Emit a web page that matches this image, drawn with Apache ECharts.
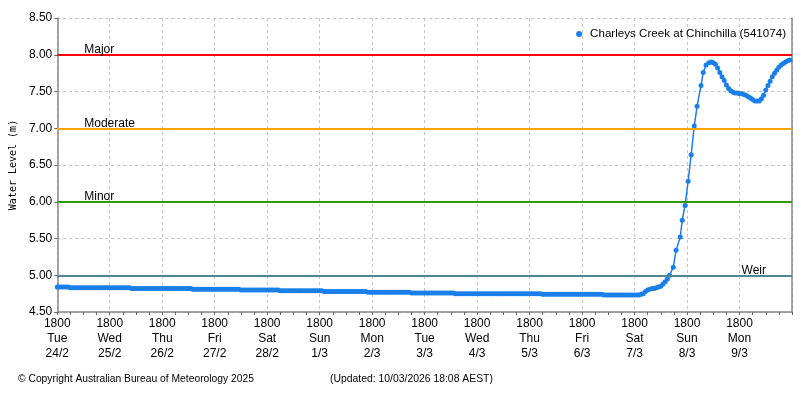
<!DOCTYPE html>
<html>
<head>
<meta charset="utf-8">
<title>Charleys Creek at Chinchilla (541074)</title>
<script src="https://cdn.jsdelivr.net/npm/echarts@6/dist/echarts.min.js"></script>
<style>
  html, body { margin: 0; padding: 0; background: #fff; }
  #chart { width: 800px; height: 400px; }
</style>
</head>
<body>
<div id="chart"></div>
<script>
// one tick per day at 1800
var tickTime = '1800';
var dayNames = ['Tue', 'Wed', 'Thu', 'Fri', 'Sat', 'Sun', 'Mon', 'Tue', 'Wed', 'Thu', 'Fri', 'Sat', 'Sun', 'Mon'];
var dayDates = ['24/2', '25/2', '26/2', '27/2', '28/2', '1/3', '2/3', '3/3', '4/3', '5/3', '6/3', '7/3', '8/3', '9/3'];

// hourly readings (m) from Tue 24/2 1800, one row per day
var baseStep = 1;
var baseLevels = [
  4.84, 4.84, 4.84, 4.84, 4.84, 4.84, 4.83, 4.83, 4.83, 4.83, 4.83, 4.83, 4.83, 4.83, 4.83, 4.83, 4.83, 4.83, 4.83, 4.83, 4.83, 4.83, 4.83, 4.83,
  4.83, 4.83, 4.83, 4.83, 4.83, 4.83, 4.83, 4.83, 4.83, 4.83, 4.82, 4.82, 4.82, 4.82, 4.82, 4.82, 4.82, 4.82, 4.82, 4.82, 4.82, 4.82, 4.82, 4.82,
  4.82, 4.82, 4.82, 4.82, 4.82, 4.82, 4.82, 4.82, 4.82, 4.82, 4.82, 4.82, 4.82, 4.82, 4.81, 4.81, 4.81, 4.81, 4.81, 4.81, 4.81, 4.81, 4.81, 4.81,
  4.81, 4.81, 4.81, 4.81, 4.81, 4.81, 4.81, 4.81, 4.81, 4.81, 4.81, 4.81, 4.80, 4.80, 4.80, 4.80, 4.80, 4.80, 4.80, 4.80, 4.80, 4.80, 4.80, 4.80,
  4.80, 4.80, 4.80, 4.80, 4.80, 4.80, 4.79, 4.79, 4.79, 4.79, 4.79, 4.79, 4.79, 4.79, 4.79, 4.79, 4.79, 4.79, 4.79, 4.79, 4.79, 4.79, 4.79, 4.79,
  4.79, 4.79, 4.78, 4.78, 4.78, 4.78, 4.78, 4.78, 4.78, 4.78, 4.78, 4.78, 4.78, 4.78, 4.78, 4.78, 4.78, 4.78, 4.78, 4.78, 4.78, 4.78, 4.77, 4.77,
  4.77, 4.77, 4.77, 4.77, 4.77, 4.77, 4.77, 4.77, 4.77, 4.77, 4.77, 4.77, 4.77, 4.77, 4.77, 4.77, 4.77, 4.77, 4.76, 4.76, 4.76, 4.76, 4.76, 4.76,
  4.76, 4.76, 4.76, 4.76, 4.76, 4.76, 4.76, 4.76, 4.76, 4.76, 4.76, 4.76, 4.76, 4.76, 4.75, 4.75, 4.75, 4.75, 4.75, 4.75, 4.75, 4.75, 4.75, 4.75,
  4.75, 4.75, 4.75, 4.75, 4.75, 4.75, 4.75, 4.75, 4.75, 4.75, 4.75, 4.75, 4.75, 4.75, 4.75, 4.75, 4.75, 4.75, 4.75, 4.75, 4.75, 4.75, 4.75, 4.75,
  4.75, 4.75, 4.75, 4.75, 4.75, 4.75, 4.74, 4.74, 4.74, 4.74, 4.74, 4.74, 4.74, 4.74, 4.74, 4.74, 4.74, 4.74, 4.74, 4.74, 4.74, 4.74, 4.74, 4.74,
  4.74, 4.74, 4.74, 4.74, 4.74, 4.74, 4.74, 4.74, 4.74, 4.74, 4.73, 4.73, 4.73, 4.73, 4.73, 4.73, 4.73, 4.73, 4.73, 4.73, 4.73, 4.73, 4.73, 4.73
];

// readings through the rise, hours after Tue 24/2 1800
var riseHours = [
  264, 265, 266, 267, 268, 269, 270, 271, 272, 273, 274, 275, 276, 277, 278, 279, 280,
  281.7, 283.0, 284.9, 285.8, 287.1, 288.5, 289.9, 291.3, 292.6, 294.4, 295.4, 296.7,
  298, 299, 300, 301, 302, 303, 304, 305, 306, 307, 308, 309, 310, 311, 312, 313,
  314, 315, 316, 317, 318, 319, 320, 321, 322, 323, 324, 325, 326, 327, 328, 329,
  330, 331, 332, 333, 334, 335
];
var riseLevels = [
  4.73, 4.73, 4.73, 4.74, 4.75, 4.78, 4.80, 4.81, 4.82, 4.82, 4.83, 4.84, 4.85, 4.88, 4.91, 4.95, 5.00,
  5.11, 5.34, 5.52, 5.75, 5.95, 6.28, 6.64, 7.03, 7.30, 7.58, 7.76, 7.86,
  7.89, 7.90, 7.89, 7.87, 7.82, 7.76, 7.70, 7.65, 7.59, 7.54, 7.51, 7.49, 7.48, 7.48, 7.47, 7.47,
  7.46, 7.45, 7.43, 7.41, 7.39, 7.37, 7.37, 7.37, 7.40, 7.45, 7.52, 7.58, 7.64, 7.70, 7.75, 7.79,
  7.83, 7.86, 7.88, 7.90, 7.92, 7.93
];

// flood classification levels (m)
var levelNames = ['Major', 'Moderate', 'Minor', 'Weir'];
var levelValues = [8.0, 7.0, 6.0, 5.0];
var levelColors = ['#ff0000', '#ffa500', '#339900', '#4f8790'];

var seriesName = 'Charleys Creek at Chinchilla (541074)';
var copyrightText = '\u00a9 Copyright Australian Bureau of Meteorology 2025';
var updatedText = '(Updated: 10/03/2026 18:08 AEST)';

var font = "'Liberation Sans', Arial, sans-serif";

var points = [];
baseLevels.forEach(function (v, i) {
  points.push([i * baseStep, v]);
});
riseHours.forEach(function (h, i) {
  points.push([h, riseLevels[i]]);
});

var levelLines = levelNames.map(function (name, i) {
  var atEnd = name === 'Weir';
  return {
    yAxis: levelValues[i],
    lineStyle: { color: levelColors[i], width: 2, type: 'solid' },
    label: {
      show: true,
      formatter: name,
      position: atEnd ? 'insideEndTop' : 'insideStartTop',
      distance: atEnd ? [26, -1] : [27, -1],
      color: '#000',
      fontSize: 12,
      fontFamily: font
    }
  };
});

var chart = echarts.init(document.getElementById('chart'));

chart.setOption({
  animation: false,
  backgroundColor: '#fff',
  textStyle: { fontFamily: font },
  grid: { left: 57, right: 8, top: 18, bottom: 88 },
  legend: {
    right: 9,
    top: 23,
    itemWidth: 6,
    itemHeight: 6,
    icon: 'circle',
    textStyle: { color: '#000', fontSize: 11.6, fontFamily: font, padding: [0, 0, 0, 3] },
    data: [seriesName]
  },
  xAxis: {
    type: 'value',
    min: 0,
    max: 336,
    interval: 24,
    axisLine: { lineStyle: { color: '#888', width: 1.5 } },
    axisTick: { show: true, length: 3, lineStyle: { color: '#666' } },
    minorTick: { show: true, splitNumber: 4, length: 3, lineStyle: { color: '#666' } },
    splitLine: { show: true, lineStyle: { color: '#c4c4c4', type: [3, 3] } },
    axisLabel: {
      color: '#000',
      fontSize: 12,
      lineHeight: 15,
      margin: 4,
      showMaxLabel: false,
      formatter: function (v) {
        var i = Math.round(v / 24);
        if (i >= dayNames.length) return '';
        return tickTime + '\n' + dayNames[i] + '\n' + dayDates[i];
      }
    }
  },
  yAxis: [
    {
      type: 'value',
      min: 4.5,
      max: 8.5,
      interval: 0.5,
      name: 'Water Level (m)',
      nameLocation: 'middle',
      nameGap: 36,
      nameTextStyle: { fontFamily: "'DejaVu Sans Mono', monospace", fontSize: 10, color: '#000' },
      axisLine: { show: true, lineStyle: { color: '#888', width: 1.5 } },
      axisTick: { show: true, length: 3, lineStyle: { color: '#666' } },
      axisLabel: {
        color: '#000',
        fontSize: 12,
        margin: 5,
        formatter: function (v) { return v.toFixed(2); }
      },
      splitLine: { show: true, lineStyle: { color: '#c4c4c4', type: [3, 3] } }
    },
    {
      type: 'value',
      position: 'right',
      min: 4.5,
      max: 8.5,
      axisLine: { show: true, lineStyle: { color: '#888', width: 1.5 } },
      axisTick: { show: false },
      axisLabel: { show: false },
      splitLine: { show: false }
    }
  ],
  series: [
    {
      name: 'levels',
      type: 'line',
      data: [],
      z: 1,
      silent: true,
      markLine: {
        silent: true,
        symbol: 'none',
        data: levelLines
      }
    },
    {
      name: seriesName,
      type: 'line',
      z: 3,
      data: points,
      showSymbol: true,
      showAllSymbol: true,
      symbol: 'circle',
      symbolSize: 5,
      itemStyle: { color: '#1a7fe8' },
      lineStyle: { color: '#1a7fe8', width: 1.5 }
    }
  ],
  graphic: [
    {
      type: 'text',
      left: 18,
      top: 374,
      style: { text: copyrightText, fill: '#000', fontSize: 10.3, fontFamily: font }
    },
    {
      type: 'text',
      left: 330,
      top: 374,
      style: { text: updatedText, fill: '#000', fontSize: 10.4, fontFamily: font }
    }
  ]
});
</script>
</body>
</html>
